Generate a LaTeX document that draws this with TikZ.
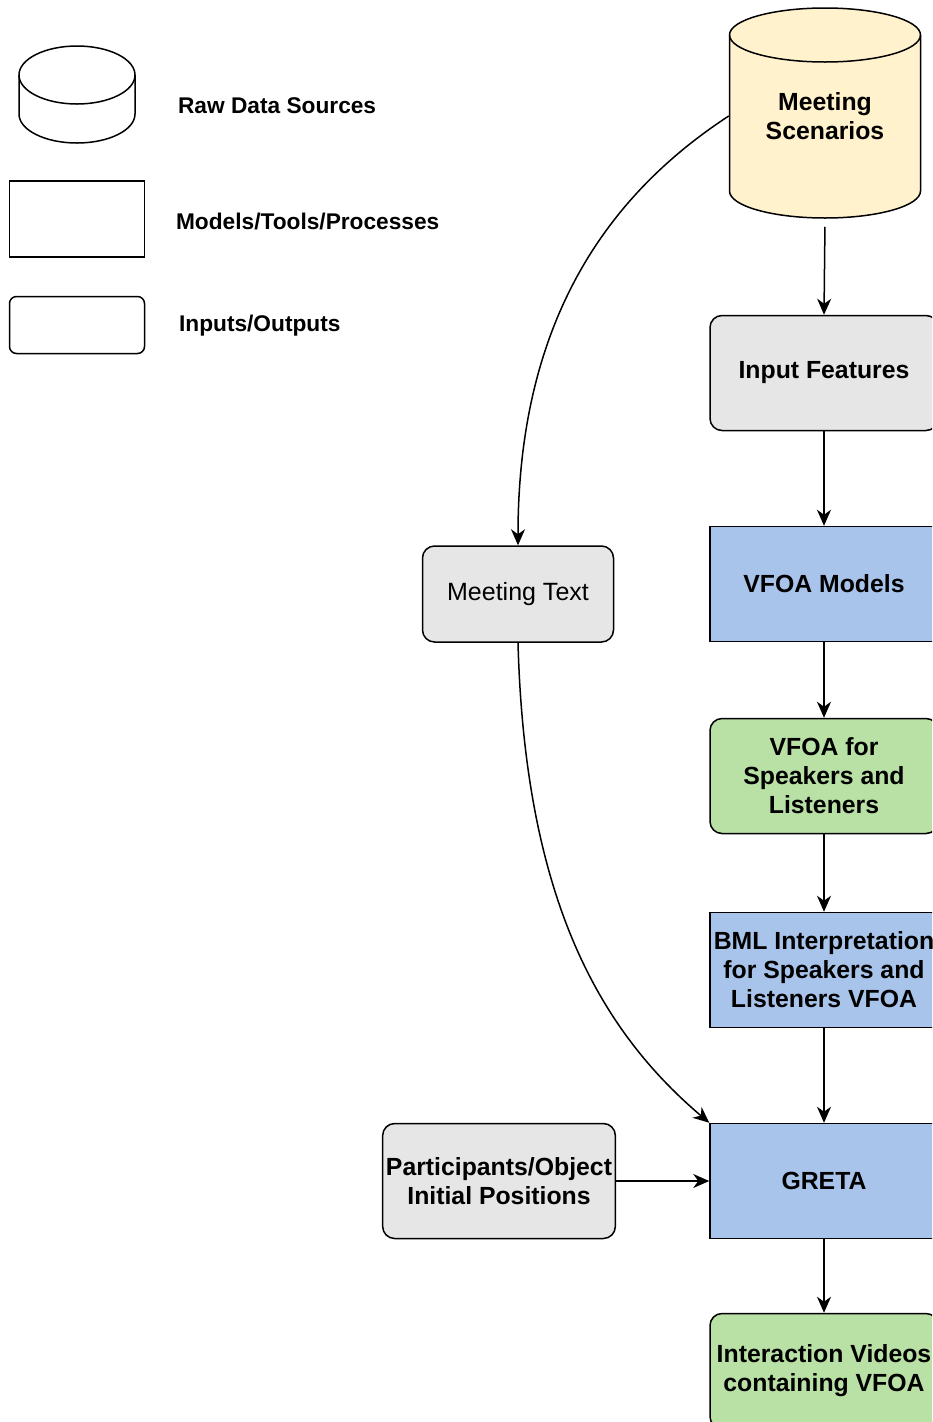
\documentclass[tikz,border=0pt]{standalone}
\usepackage{fontspec}
\setmainfont{Liberation Sans}
\usetikzlibrary{arrows.meta}

\definecolor{scenyellow}{HTML}{FFF2CC}
\definecolor{iogrey}{HTML}{E6E6E6}
\definecolor{modblue}{HTML}{A9C4EB}
\definecolor{outgreen}{HTML}{B9E0A5}

% cylinder: {centre x}{top ellipse centre y}{bottom ellipse centre y}{x radius}{y radius}{fill}
\newcommand{\dbdraw}[6]{%
	\filldraw[fill=#6, line width=1.5pt] (#1-#4,#2) -- (#1-#4,#3)
		arc[start angle=180, end angle=360, x radius=#4pt, y radius=#5pt]
		-- (#1+#4,#2)
		arc[start angle=0, end angle=180, x radius=#4pt, y radius=#5pt] -- cycle;
	\draw[line width=1.5pt] (#1-#4,#2) arc[start angle=180, end angle=360, x radius=#4pt, y radius=#5pt];
}

\tikzset{
	every node/.style={font=\fontsize{24.8}{29}\selectfont\bfseries, align=center, line width=1.5pt},
	proc/.style={shape=rectangle, draw, minimum width=228, minimum height=115},
	io/.style={shape=rectangle, draw, rounded corners=12pt, minimum width=228, minimum height=115},
	legend/.style={anchor=west, yshift=-1pt, font=\fontsize{22.7}{29}\selectfont\bfseries},
	flow/.style={line width=1.5pt, -{Stealth[length=16pt,width=14pt,inset=5pt]}}
}

\begin{document}
\begin{tikzpicture}[x=1pt, y=-1pt]
	\useasboundingbox (0,0) rectangle (932,1422);
	\clip (0,0) rectangle (932,1422);
	
	% legend
	\dbdraw{77}{75}{114}{58}{29}{white}
	\node[minimum width=116, minimum height=98] (ldb) at (77,94) {};
	\node[shape=rectangle, draw, minimum width=135, minimum height=76] (lproc) at (77,219) {};
	\node[shape=rectangle, draw, rounded corners=7pt, minimum width=135, minimum height=57] (lio) at (77,325) {};
	\node[legend] (ldbtext) at (174,105) {Raw Data Sources};
	\node[legend] (lproctext) at (172,220) {Models/Tools/Processes};
	\node[legend] (liotext) at (175,325) {Inputs/Outputs};
	
	% main flow
	\dbdraw{825}{35}{191}{95.5}{27}{scenyellow}
	\node[minimum width=191, minimum height=210] (scen) at (825,116) {Meeting\\Scenarios};
	\node[io, fill=iogrey] (feat) at (824,373) {Input Features};
	\node[proc, fill=modblue] (vfoa) at (824,584) {VFOA Models};
	\node[io, fill=outgreen] (spk) at (824,776) {VFOA for\\Speakers and\\Listeners};
	\node[proc, fill=modblue] (bml) at (824,970) {BML Interpretation\\for Speakers and\\Listeners VFOA};
	\node[proc, fill=modblue] (greta) at (824,1181) {GRETA};
	\node[io, fill=outgreen] (video) at (824,1371) {Interaction Videos\\containing VFOA};
	
	% side inputs
	\node[io, fill=iogrey, minimum width=191, minimum height=96, font=\fontsize{25}{29}\selectfont] (mtext) at (518,594) {Meeting Text};
	\node[io, fill=iogrey, minimum width=230] (part) at (499,1181) {Participants/Object\\Initial Positions};
	
	\path [flow, shorten <=5pt] (scen.south) edge (feat.north);
	\path [flow] (feat) edge (vfoa);
	\path [flow] (vfoa) edge (spk);
	\path [flow] (spk) edge (bml);
	\path [flow] (bml) edge (greta);
	\path [flow] (greta) edge (video);
	\path [flow] (part) edge (greta);
	\draw [flow] (scen.west) .. controls (600,200) and (518,330) .. (mtext.north);
	\draw [flow] (mtext.south) .. controls (525,900) and (600,1030) .. (greta.north west);
\end{tikzpicture}
\end{document}
